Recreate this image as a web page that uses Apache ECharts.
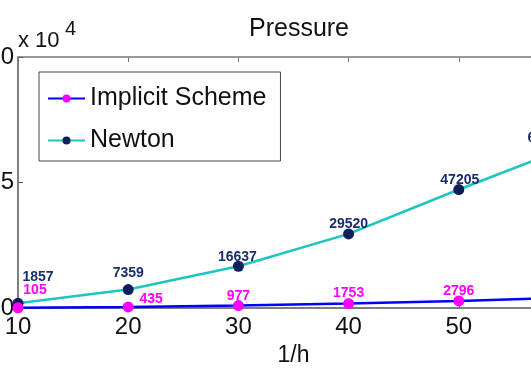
<!DOCTYPE html>
<html><head><meta charset="utf-8">
<script src="https://cdn.jsdelivr.net/npm/echarts@6/dist/echarts.min.js"></script>
<style>html,body{margin:0;padding:0;background:#fff}#c{width:531px;height:375px}</style>
</head><body><div id="c"></div>
<script>
var xValues = [10, 20, 30, 40, 50, 60];
var implicitValues = [105, 435, 977, 1753, 2796, 4200];
var newtonValues = [1857, 7359, 16637, 29520, 47205, 64213];
var seriesNames = ['Implicit Scheme', 'Newton'];
var titleText = 'Pressure';
var xAxisName = '1/h';
var exponentBase = 'x 10';
var exponentPower = '4';

// label offsets (pixels) relative to each point
var implicitLabelOffsets = [[17,-18],[23,-8],[0,-9],[0,-10],[0,-10],[0,-10]];
var newtonLabelOffsets = [[20,-26],[0,-16],[-1,-9],[0,-10],[1,-9],[-22,-9]];

function build(vals, offs, color){
  return vals.map(function(v,i){
    return {value:[xValues[i], v], label:{show:true, position:'inside', offset:offs[i], formatter:String(v), color:color, fontWeight:'bold', fontSize:14, fontFamily:'Liberation Sans'}};
  });
}

var chart = echarts.init(document.getElementById('c'), null, {renderer:'canvas'});
var font = 'Liberation Sans';
chart.setOption({
  animation:false,
  backgroundColor:'#fff',
  title:{text:titleText, left:294, textAlign:'center', top:12, textStyle:{fontFamily:font, fontSize:25, fontWeight:'normal', color:'#111'}},
  legend:{orient:'vertical', left:39, top:72, data:seriesNames, backgroundColor:'#fff', borderColor:'#444', borderWidth:1,
    padding:[14,14,8,8], itemGap:17, itemWidth:37, itemHeight:10,
    textStyle:{fontFamily:font, fontSize:25, color:'#111'}},
  grid:{left:18, top:57, bottom:67, right:-38, containLabel:false, outerBoundsMode:'none'},
  xAxis:[{type:'value', min:10, max:60, interval:10, name:xAxisName, nameLocation:'middle', nameGap:35,
    nameTextStyle:{fontFamily:font, fontSize:23, color:'#111'},
    axisLine:{lineStyle:{color:'#555', width:1.5}}, axisTick:{inside:true, length:5, lineStyle:{color:'#555'}},
    axisLabel:{fontFamily:font, fontSize:24, color:'#111', margin:7}, splitLine:{show:false}},
    {type:'value', position:'top', min:10, max:60, interval:10, axisLine:{lineStyle:{color:'#777', width:1.5}},
    axisTick:{inside:true, length:5, lineStyle:{color:'#777'}}, axisLabel:{show:false}, splitLine:{show:false}}],
  yAxis:{type:'value', min:0, max:100000, interval:50000,
    axisLine:{show:true, lineStyle:{color:'#555', width:1.5}}, axisTick:{show:true, inside:true, length:5, lineStyle:{color:'#555'}},
    axisLabel:{fontFamily:font, fontSize:24, color:'#111', margin:4, formatter:function(v){return String(v/10000);}}, splitLine:{show:false}},
  graphic:[
    {type:'text', left:18, top:30, style:{text:exponentBase, fontFamily:font, fontSize:22, fill:'#111'}},
    {type:'text', left:65, top:19, style:{text:exponentPower, fontFamily:font, fontSize:20, fill:'#111'}}
  ],
  series:[
    {name:seriesNames[0], type:'line', data:build(implicitValues, implicitLabelOffsets, '#ff00ff'), symbol:'circle', symbolSize:11,
      lineStyle:{color:'#0000ff', width:2.5}, itemStyle:{color:'#ff00ff'}, z:3},
    {name:seriesNames[1], type:'line', data:build(newtonValues, newtonLabelOffsets, '#1a2d6e'), symbol:'circle', symbolSize:11,
      lineStyle:{color:'#1cc6c0', width:2.5}, itemStyle:{color:'#0c1f5c'}, z:2}
  ]
});
</script></body></html>
